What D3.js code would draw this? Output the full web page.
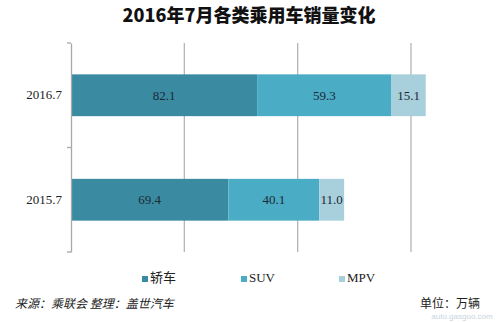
<!DOCTYPE html>
<html><head><meta charset="utf-8">
<script src="https://cdn.jsdelivr.net/npm/d3@7"></script>
<style>body{margin:0;background:#fff}svg{display:block}</style>
</head><body>
<script>
const categories = ["2016.7", "2015.7"];
const seriesNames = ["轿车", "SUV", "MPV"];
const sedan = [82.1, 69.4];
const suv = [59.3, 40.1];
const mpv = [15.1, 11.0];
const xTicks = [0, 50, 100, 150];
const colors = ["#3a8ba1", "#4bacc6", "#a8cfdc"];

const W = 500, H = 322;
const svg = d3.select("body").append("svg").attr("width", W).attr("height", H);

svg.append("text").attr("x", 249).attr("y", 22).attr("text-anchor", "middle")
  .attr("font-family", "'Noto Sans CJK SC', sans-serif").attr("font-weight", 900)
  .attr("font-size", 18).attr("fill", "#111").text("2016年7月各类乘用车销量变化");

const x = d3.scaleLinear().domain([0, 150]).range([71, 411]);
const y = d3.scaleBand().domain(categories).range([43, 252]).paddingInner(0.6).paddingOuter(0.3);
const yOuter = d3.scaleBand().domain(categories).range([43, 252]);

// gridlines
svg.append("g").selectAll("line").data(xTicks.slice(1)).join("line")
  .attr("x1", d => x(d)).attr("x2", d => x(d)).attr("y1", 43).attr("y2", 252)
  .attr("stroke", "#b5b5b5").attr("stroke-width", 1.3);

const rows = categories.map((c, i) => ({ cat: c, vals: [sedan[i], suv[i], mpv[i]] }));
const stackData = rows.map(r => {
  let acc = 0;
  return r.vals.map((v, k) => { const s = { cat: r.cat, k, v, x0: acc, x1: acc + v }; acc += v; return s; });
}).flat();

const g = svg.append("g");
g.selectAll("rect").data(stackData).join("rect")
  .attr("x", d => x(d.x0)).attr("width", d => x(d.x1) - x(d.x0))
  .attr("y", d => y(d.cat)).attr("height", y.bandwidth())
  .attr("fill", d => colors[d.k]);

g.selectAll("text").data(stackData).join("text")
  .attr("x", d => (x(d.x0) + x(d.x1)) / 2).attr("y", d => y(d.cat) + y.bandwidth() / 2 + 4.5)
  .attr("text-anchor", "middle").attr("font-family", "'Liberation Serif', serif")
  .attr("font-size", 13).attr("fill", "#1a2a33").text(d => d.v.toFixed(1));

// y axis
const yAxis = d3.axisLeft(yOuter).tickSize(0).tickPadding(9);
const ya = svg.append("g").attr("transform", "translate(71,0)").call(yAxis);
ya.select(".domain").attr("stroke", "#a8a8a8").attr("stroke-width", 1.3);
ya.selectAll("text").attr("font-family", "'Liberation Serif', serif").attr("font-size", 13).attr("fill", "#222");
svg.append("g").selectAll("line").data([43, yOuter.step() + 43, 252]).join("line")
  .attr("x1", 67).attr("x2", 71).attr("y1", d => d).attr("y2", d => d)
  .attr("stroke", "#a8a8a8").attr("stroke-width", 1.3);

// legend
const legX = [142, 241, 339];
const leg = svg.append("g").selectAll("g").data(seriesNames).join("g")
  .attr("transform", (d, i) => `translate(${legX[i]},282)`);
leg.append("rect").attr("x", 0).attr("y", -6).attr("width", 6).attr("height", 6).attr("fill", (d, i) => colors[i]);
leg.append("text").attr("x", 8).attr("y", 0)
  .attr("font-family", (d, i) => i === 0 ? "'Noto Sans CJK SC', sans-serif" : "'Liberation Serif', serif")
  .attr("font-size", 13).attr("fill", "#222").text(d => d);

// footer
svg.append("text").attr("x", 15).attr("y", 308).attr("font-family", "'Noto Sans CJK SC', sans-serif")
  .attr("font-style", "italic").attr("font-size", 12).attr("fill", "#222")
  .text("来源：乘联会  整理：盖世汽车");
svg.append("text").attr("x", 420).attr("y", 308).attr("font-family", "'Noto Sans CJK SC', sans-serif")
  .attr("font-size", 12).attr("fill", "#222").text("单位：万辆");
svg.append("text").attr("x", 462).attr("y", 319).attr("text-anchor", "middle")
  .attr("font-family", "Arial, sans-serif").attr("font-size", 8).attr("fill", "#c8d4dc").text("auto.gasgoo.com");
</script>
</body></html>
